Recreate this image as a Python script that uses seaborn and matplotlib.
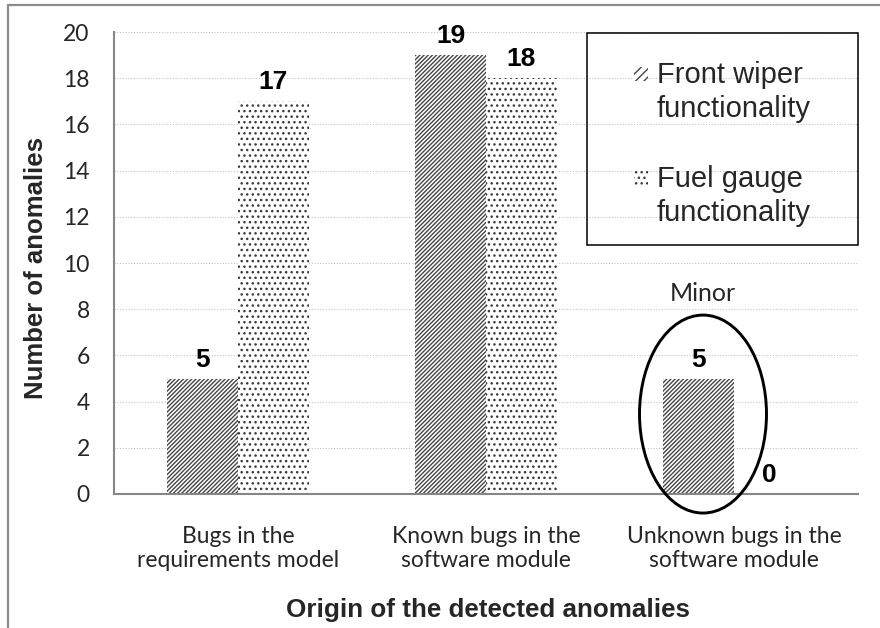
import matplotlib
matplotlib.use("Agg")
import matplotlib.pyplot as plt
from matplotlib.patches import Rectangle, Ellipse
from matplotlib.lines import Line2D
from matplotlib.ticker import FixedLocator
import pandas as pd
import seaborn as sns

# Data
categories = ["Bugs in the\nrequirements model",
              "Known bugs in the\nsoftware module",
              "Unknown bugs in the\nsoftware module"]
series_names = ["Front wiper functionality", "Fuel gauge functionality"]
front_wiper = [5, 19, 5]
fuel_gauge = [17, 18, 0]
y_ticks = [0, 2, 4, 6, 8, 10, 12, 14, 16, 18, 20]

df = pd.DataFrame({
    "origin": categories * 2,
    "count": front_wiper + fuel_gauge,
    "function": [series_names[0]] * 3 + [series_names[1]] * 3,
})

sns.set_style("white")
plt.rcParams["font.family"] = ["Liberation Sans", "DejaVu Sans"]
plt.rcParams["hatch.linewidth"] = 1.0

AXIS_GRAY = "#868686"
TICK_FONT = ["Lato", "DejaVu Sans"]

W, H = 880, 628
def fx(px):
    return px / W
def fy(py):
    return 1 - py / H

fig = plt.figure(figsize=(8.8, 6.28), dpi=100)
ax = fig.add_axes([fx(114), fy(494), 744 / W, 462 / H])

sns.barplot(data=df, x="origin", y="count", hue="function",
            order=categories, hue_order=series_names,
            width=0.57, gap=0, saturation=1, legend=False, ax=ax,
            palette=["white", "white"])

styles = [dict(hatch="////////", edge="#454545"),
          dict(hatch="...", edge="#3a3a3a")]
for cont, st in zip(ax.containers, styles):
    for p in cont.patches:
        p.set_facecolor("white")
        p.set_edgecolor(st["edge"])
        p.set_hatch(st["hatch"])
        p.set_linewidth(0)
        # value label above each bar
        ax.annotate(f"{p.get_height():.0f}",
                    (p.get_x() + p.get_width() / 2, p.get_height()),
                    xytext=(0, 8.5), textcoords="offset points",
                    ha="center", va="baseline", fontsize=19,
                    fontweight="bold", color="black")

ax.set_xlim(-0.5, 2.5)
ax.set_ylim(0, 20)
ax.set_yticks(y_ticks)
ax.set_yticklabels([str(t) for t in y_ticks], family=TICK_FONT, fontsize=16.5)
ax.set_xticks(range(len(categories)))
ax.set_xticklabels(categories, family=TICK_FONT, fontsize=16.5, linespacing=1.2)
ax.xaxis.set_minor_locator(FixedLocator([-0.5, 0.5, 1.5, 2.5]))

ax.tick_params(axis="x", which="major", length=0, pad=23)
ax.tick_params(axis="x", which="minor", length=6, width=1.3,
               color=AXIS_GRAY, direction="out")
ax.tick_params(axis="y", which="major", length=6, width=1.3,
               color=AXIS_GRAY, direction="out", pad=11.5)

for side in ["top", "right"]:
    ax.spines[side].set_visible(False)
for side in ["left", "bottom"]:
    ax.spines[side].set_color(AXIS_GRAY)
    ax.spines[side].set_linewidth(1.5)

ax.yaxis.grid(True, color="#c4c4c4", linestyle=(0, (1, 1.5)), linewidth=0.8)
ax.set_axisbelow(True)

ax.set_xlabel("Origin of the detected anomalies", fontsize=18.7, fontweight="bold")
ax.set_ylabel("Number of anomalies", fontsize=18.5, fontweight="bold")
ax.xaxis.set_label_coords(0.503, -0.252)
ax.xaxis.label.set_va("center")
ax.yaxis.set_label_coords(-0.1048, (494 - 268) / 462)
ax.yaxis.label.set_va("center")

# Highlight of the third group
ax.add_patch(Ellipse((1.875, 3.46), 0.512, 8.57, fill=False,
                     edgecolor="black", linewidth=2.1, clip_on=False, zorder=5))
ax.text(1.875, 8.66, "Minor", ha="center", va="center",
        family=TICK_FONT, fontsize=18)

# Outer chart border (top and left edges)
fig.add_artist(Line2D([fx(8), fx(8)], [0, fy(5)], transform=fig.transFigure,
                      color="#8c8c8c", linewidth=1.6))
fig.add_artist(Line2D([fx(8), 1], [fy(5), fy(5)], transform=fig.transFigure,
                      color="#8c8c8c", linewidth=1.6))

# Legend box
fig.add_artist(Rectangle((fx(587), fy(245)), fx(858) - fx(587), fy(33) - fy(245),
                         transform=fig.transFigure, fill=False,
                         edgecolor="black", linewidth=1.1, zorder=6))
legend_rows = [
    (series_names[0], styles[0], 67, (83, 117)),
    (series_names[1], styles[1], 171, (187, 221)),
]
for name, st, htop, baselines in legend_rows:
    fig.add_artist(Rectangle((fx(634), fy(htop + 14)), fx(648) - fx(634), fy(htop) - fy(htop + 14),
                             transform=fig.transFigure, facecolor="white",
                             edgecolor=st["edge"], hatch=st["hatch"][:4], linewidth=0))
    words = name.split(" ")
    lines = [" ".join(words[:-1]), words[-1]]
    for line, b in zip(lines, baselines):
        fig.text(fx(657), fy(b), line, ha="left", va="baseline", fontsize=21)

fig.savefig("out.png", dpi=100)
